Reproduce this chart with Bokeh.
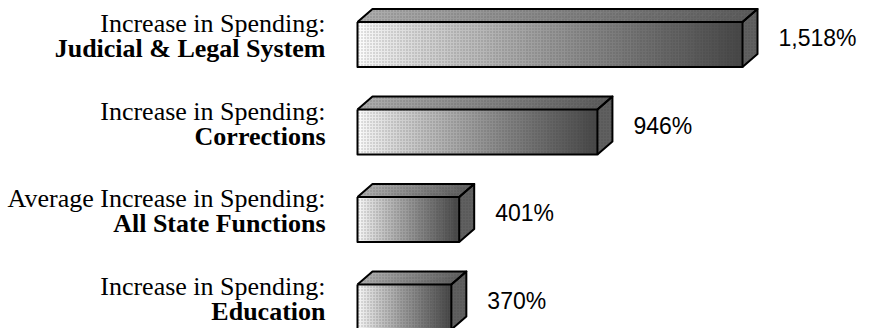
from bokeh.plotting import figure
from bokeh.models import Range1d
from bokeh.core.properties import value
from bokeh.embed import file_html
from bokeh.resources import INLINE

# ---- data ----
line1 = ["Increase in Spending:", "Increase in Spending:",
         "Average Increase in Spending:", "Increase in Spending:"]
line2 = ["Judicial & Legal System", "Corrections",
         "All State Functions", "Education"]
values = [1518, 946, 401, 370]
value_labels = ["1,518%", "946%", "401%", "370%"]

# ---- layout constants ----
W, H = 872, 328
X0_PX = 357.0
PX_PER_UNIT = 385.0 / 1518.0
ROW0_PX = 44.0
ROW_PX = 87.5
x_start = -X0_PX / PX_PER_UNIT
x_end = (W - X0_PX) / PX_PER_UNIT
y_top = -ROW0_PX / ROW_PX
y_bottom = (H - ROW0_PX) / ROW_PX

DX = 15.0 / PX_PER_UNIT      # depth in x (data units)
DY = 13.0 / ROW_PX           # depth in y (data units)
HH = 22.5 / ROW_PX           # half front height

p = figure(width=W, height=H, x_range=Range1d(x_start, x_end),
           y_range=Range1d(y_bottom, y_top), output_backend="svg",
           toolbar_location=None, min_border=0,
           x_axis_location=None, y_axis_location=None)
p.grid.visible = False
p.outline_line_color = None
p.background_fill_color = "white"
p.border_fill_color = "white"


def gray(level):
    level = int(max(0, min(255, round(level))))
    return "#%02x%02x%02x" % (level, level, level)


N = 48
for i, v in enumerate(values):
    top = i - HH
    bot = i + HH
    # front face gradient
    lefts, rights, cols = [], [], []
    for k in range(N):
        lefts.append(v * k / N)
        rights.append(v * (k + 1) / N)
        t = k / (N - 1)
        cols.append(gray(250 - 178 * t ** 0.85))
    p.quad(left=lefts, right=rights, top=[top] * N, bottom=[bot] * N,
           fill_color=cols, line_color=cols, line_width=0.8)
    # top face gradient
    xs, ys, tcols = [], [], []
    for k in range(N):
        a = v * k / N
        b = v * (k + 1) / N
        xs.append([a, a + DX, b + DX, b])
        ys.append([top, top - DY, top - DY, top])
        t = k / (N - 1)
        tcols.append(gray(172 - 80 * t))
    p.patches(xs, ys, fill_color=tcols, line_color=tcols, line_width=0.8)
    # side face
    p.patch([v, v + DX, v + DX, v], [top, top - DY, bot - DY, bot],
            fill_color="#606060", line_color=None)
    # halftone texture
    p.patch([0, DX, v + DX, v + DX, v, 0],
            [top, top - DY, top - DY, bot - DY, bot, bot],
            fill_alpha=0, line_color=None, hatch_pattern="dot",
            hatch_color="#333333", hatch_alpha=0.35, hatch_scale=3)
    # outlines
    p.multi_line(
        xs=[[0, v, v, 0, 0],
            [0, DX, v + DX, v],
            [v, v + DX, v + DX, v]],
        ys=[[top, top, bot, bot, top],
            [top, top - DY, top - DY, top],
            [top, top - DY, bot - DY, bot]],
        line_color="black", line_width=2, line_join="round")

# value labels
p.text(x=values, y=[i - DY / 2 for i in range(len(values))],
       text=value_labels, x_offset=15 + 21, text_baseline="middle",
       text_align="left", text_font=value("Liberation Sans"),
       text_font_size="23px", text_color="#000000")

# category labels
p.text(x=[0] * 4, y=list(range(4)), text=line1, x_offset=-32, y_offset=-21,
       text_baseline="middle", text_align="right",
       text_font=value("Liberation Serif"), text_font_size="26px",
       text_color="#000000")
p.text(x=[0] * 4, y=list(range(4)), text=line2, x_offset=-32, y_offset=4,
       text_baseline="middle", text_align="right",
       text_font=value("Liberation Serif"), text_font_style="bold",
       text_font_size="26px", text_color="#000000")

open("out.html", "w").write(file_html(p, INLINE))
